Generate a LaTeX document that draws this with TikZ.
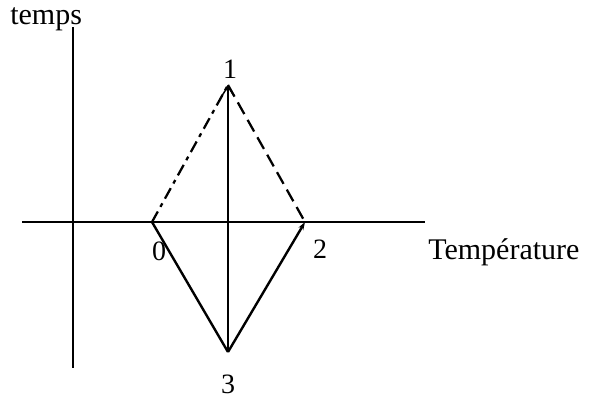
\documentclass[tikz,border=0pt]{standalone}
\usepackage{fontspec}
\setmainfont{Liberation Serif}
\usetikzlibrary{arrows.meta}
\begin{document}
\begin{tikzpicture}[x=0.75pt,y=-0.75pt,
  axis/.style={line width=2.2pt},
  lbl/.style={inner sep=0pt,font=\fontsize{22.5}{26}\selectfont},
  dig/.style={inner sep=0pt,font=\fontsize{21}{25}\selectfont},
  thinline/.style={line width=1.1pt},
  solidline/.style={line width=1.8pt},
  dashline/.style={line width=1.7pt,dash pattern=on 10pt off 5pt},
  dashdotline/.style={line width=1.7pt,dash pattern=on 9pt off 4pt on 3pt off 4pt}]
\useasboundingbox (0,0) rectangle (589,402);
% axes
\coordinate (ytop) at (73,27);
\coordinate (ybot) at (73,368);
\coordinate (xleft) at (22,222);
\coordinate (xright) at (425,222);
\draw[axis] (ybot) -- (ytop);
\draw[axis] (xleft) -- (xright);
% points
\coordinate (p0) at (152,222);
\coordinate (p1) at (228,85);
\coordinate (p2) at (305,222);
\coordinate (p3) at (228,352);
% lines
\draw[thinline,-{Straight Barb[length=7pt,width=9pt,line width=1.1pt]}] (p3) -- (p1);
\draw[dashdotline] (p0) -- (p1);
\draw[dashline] (p1) -- (p2);
\draw[solidline] (p0) -- (p3);
\draw[solidline,-{Stealth[length=6pt,width=4pt]}] (p3) -- (p2);
% labels
\node[lbl,anchor=base west] (temps) at (10,25) {temps};
\node[lbl,anchor=base west] (temp) at (428,260) {Température};
\node[dig] (l1) at (230,69) {1};
\node[dig] (l0) at (159,251) {0};
\node[dig] (l2) at (320,249) {2};
\node[dig] (l3) at (228,384) {3};
\end{tikzpicture}
\end{document}
